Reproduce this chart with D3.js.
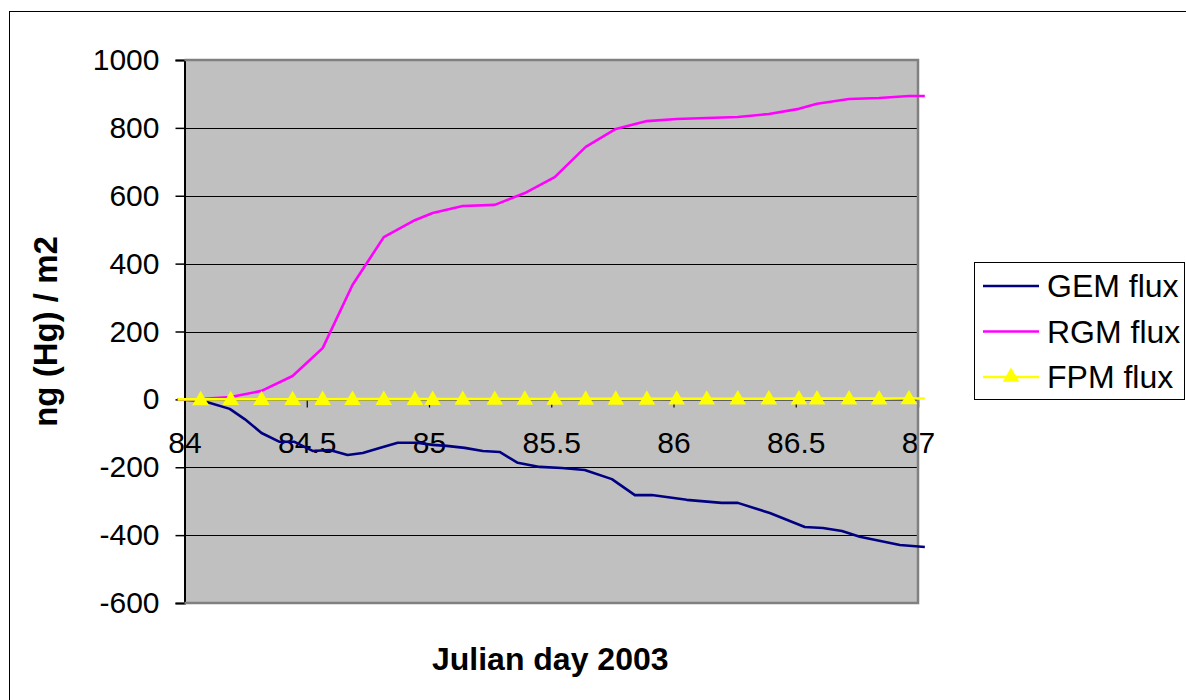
<!DOCTYPE html>
<html>
<head>
<meta charset="utf-8">
<script src="https://cdn.jsdelivr.net/npm/d3@7"></script>
<style>
  body { margin: 0; background: #fff; }
  svg { display: block; font-family: "Liberation Sans", Arial, sans-serif; }
</style>
</head>
<body>
<svg width="1186" height="700"></svg>
<script>
// GEM flux has its own sampling times
const gemDays = [83.972, 84.074, 84.185, 84.246, 84.315, 84.389, 84.45, 84.524, 84.594, 84.667,
  84.729, 84.798, 84.872, 84.95, 85.015, 85.072, 85.146, 85.22, 85.289, 85.363,
  85.453, 85.543, 85.637, 85.748, 85.842, 85.911, 86.054, 86.197, 86.263, 86.394,
  86.537, 86.611, 86.689, 86.762, 86.926, 87.028];
const gemFlux = [0, -4, -28, -58, -99, -125, -125, -152, -149, -164,
  -158, -143, -128, -128, -134, -137, -143, -152, -155, -187,
  -199, -202, -208, -235, -282, -282, -296, -305, -305, -335,
  -376, -379, -388, -405, -429, -435];

// RGM and FPM share the 3-hour sampling times
const days = [83.972, 84.066, 84.189, 84.315, 84.442, 84.565, 84.687, 84.815, 84.942, 85.015,
  85.138, 85.269, 85.392, 85.514, 85.641, 85.764, 85.891, 86.013, 86.136, 86.263,
  86.39, 86.513, 86.587, 86.718, 86.841, 86.963, 87.028];
const rgmFlux = [0, 1, 7, 25, 69, 151, 337, 478, 528, 549,
  570, 573, 608, 655, 744, 797, 820, 826, 829, 832,
  841, 856, 871, 885, 888, 894, 894];
const fpmFlux = [0, 0.1, 0.2, 0.3, 0.4, 0.5, 0.6, 0.7, 0.8, 0.9,
  1.0, 1.1, 1.2, 1.3, 1.4, 1.5, 1.6, 1.7, 1.8, 1.9,
  2.0, 2.1, 2.1, 2.2, 2.3, 2.4, 2.4];

const xTicks = [84, 84.5, 85, 85.5, 86, 86.5, 87];
const yTicks = [-600, -400, -200, 0, 200, 400, 600, 800, 1000];

const series = [
  { name: "GEM flux", color: "#000080", x: gemDays, y: gemFlux, marker: false },
  { name: "RGM flux", color: "#FF00FF", x: days, y: rgmFlux, marker: false },
  { name: "FPM flux", color: "#FFFF00", x: days, y: fpmFlux, marker: true }
];

const svg = d3.select("svg");
const plotLeft = 184.5, plotRight = 918, plotTop = 60, plotBottom = 603;
const fontSize = 30;

const x = d3.scaleLinear().domain([84, 87]).range([plotLeft, plotRight]);
const y = d3.scaleLinear().domain([-600, 1000]).range([plotBottom, plotTop]);

// outer chart border (runs off the right and bottom edges)
svg.append("rect")
  .attr("x", 9.5).attr("y", 11.5)
  .attr("width", 1250).attr("height", 750)
  .attr("fill", "#fff").attr("stroke", "#000").attr("stroke-width", 1);

// plot area
svg.append("rect")
  .attr("x", plotLeft).attr("y", plotTop)
  .attr("width", plotRight - plotLeft).attr("height", plotBottom - plotTop)
  .attr("fill", "#C0C0C0");

// gridlines
svg.append("g")
  .selectAll("line")
  .data(yTicks.filter(d => d !== -600 && d !== 1000))
  .enter().append("line")
  .attr("x1", plotLeft).attr("x2", plotRight)
  .attr("y1", d => Math.round(y(d)) + 0.5).attr("y2", d => Math.round(y(d)) + 0.5)
  .attr("stroke", "#000").attr("stroke-width", 1.2);

// y axis
const yAxis = svg.append("g")
  .attr("transform", `translate(${plotLeft},0)`)
  .call(d3.axisLeft(y).tickValues(yTicks).tickSize(9).tickPadding(16).tickFormat(d => String(d)));
yAxis.select(".domain").attr("stroke", "#000").attr("stroke-width", 2);
yAxis.selectAll(".tick line").attr("stroke", "#000").attr("stroke-width", 1.5);
yAxis.selectAll("text").attr("font-size", fontSize).attr("fill", "#000")
  .attr("font-family", "Liberation Sans, Arial, sans-serif");

// x axis crosses at zero
const xAxis = svg.append("g")
  .attr("transform", `translate(0,${Math.round(y(0)) + 0.5})`)
  .call(d3.axisBottom(x).tickValues(xTicks).tickSize(8).tickPadding(24).tickFormat(d => String(d)));
xAxis.select(".domain").attr("stroke", "#000").attr("stroke-width", 1.2);
xAxis.selectAll(".tick line").attr("stroke", "#000").attr("stroke-width", 1.2);
xAxis.selectAll("text").attr("font-size", fontSize).attr("fill", "#000")
  .attr("font-family", "Liberation Sans, Arial, sans-serif");

// plot border on top, gray
svg.append("path")
  .attr("d", `M${plotLeft},${plotTop} H${plotRight} V${plotBottom} H${plotLeft}`)
  .attr("fill", "none").attr("stroke", "#808080").attr("stroke-width", 2.5);

// series lines
const line = d3.line().x(d => x(d[0])).y(d => y(d[1]));
series.forEach(s => {
  const pts = s.x.map((d, i) => [d, s.y[i]]);
  svg.append("path")
    .datum(pts)
    .attr("d", line)
    .attr("fill", "none")
    .attr("stroke", s.color)
    .attr("stroke-width", 2.6)
    .attr("stroke-linejoin", "round");
  if (s.marker) {
    svg.append("g")
      .selectAll("path")
      .data(pts.filter(p => p[0] >= 84 && p[0] <= 87))
      .enter().append("path")
      .attr("d", d3.symbol().type(d3.symbolTriangle).size(120))
      .attr("transform", p => `translate(${x(p[0])},${y(p[1]) + 1})`)
      .attr("fill", s.color);
  }
});

// axis titles
svg.append("text")
  .attr("x", (plotLeft + plotRight) / 2 - 1).attr("y", 670)
  .attr("text-anchor", "middle")
  .attr("font-size", 32).attr("font-weight", "bold")
  .text("Julian day 2003");

svg.append("text")
  .attr("transform", `translate(57,${(plotTop + plotBottom) / 2}) rotate(-90)`)
  .attr("text-anchor", "middle")
  .attr("font-size", 33).attr("font-weight", "bold")
  .text("ng (Hg) / m2");

// legend
const legend = svg.append("g").attr("transform", "translate(974,262)");
legend.append("rect")
  .attr("x", 0.5).attr("y", 0.5).attr("width", 210).attr("height", 137)
  .attr("fill", "#fff").attr("stroke", "#000").attr("stroke-width", 1);
series.forEach((s, i) => {
  const cy = 24 + i * 45.5;
  legend.append("line")
    .attr("x1", 9).attr("x2", 65).attr("y1", cy).attr("y2", cy)
    .attr("stroke", s.color).attr("stroke-width", 2.6);
  if (s.marker) {
    legend.append("path")
      .attr("d", d3.symbol().type(d3.symbolTriangle).size(120))
      .attr("transform", `translate(37,${cy})`)
      .attr("fill", s.color);
  }
  legend.append("text")
    .attr("x", 73).attr("y", cy + 11)
    .attr("font-size", 32)
    .text(s.name);
});
</script>
</body>
</html>
